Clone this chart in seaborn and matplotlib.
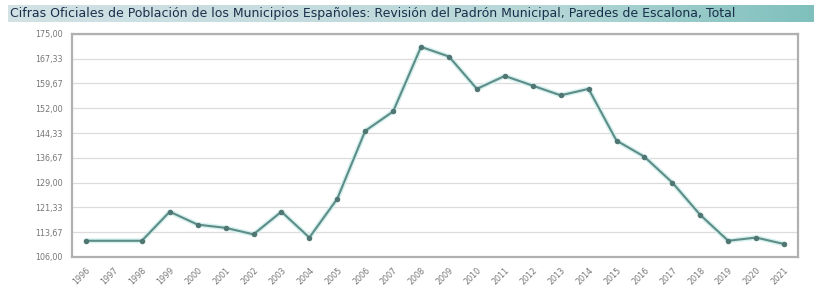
import matplotlib
matplotlib.use("Agg")
import matplotlib.pyplot as plt
import seaborn as sns
import numpy as np
import pandas as pd

title = "Cifras Oficiales de Población de los Municipios Españoles: Revisión del Padrón Municipal, Paredes de Escalona, Total"

years = [1996, 1998, 1999, 2000, 2001, 2002, 2003, 2004, 2005, 2006, 2007, 2008,
         2009, 2010, 2011, 2012, 2013, 2014, 2015, 2016, 2017, 2018, 2019, 2020, 2021]
population = [111, 111, 120, 116, 115, 113, 120, 112, 124, 145, 151, 171,
              168, 158, 162, 159, 156, 158, 142, 137, 129, 119, 111, 112, 110]
tick_years = list(range(1996, 2022))
y_ticks = [106.00, 113.67, 121.33, 129.00, 136.67, 144.33, 152.00, 159.67, 167.33, 175.00]

df = pd.DataFrame({"year": years, "population": population})

sns.set_style("white")
plt.rcParams['font.family'] = ['DejaVu Sans']

fig = plt.figure(figsize=(8.22, 2.95), dpi=100)

# title bar with gradient
bar = fig.add_axes([0.01, 0.925, 0.98, 0.058])
grad = np.linspace(0, 1, 256).reshape(1, -1)
cmap = matplotlib.colors.LinearSegmentedColormap.from_list(
    "bar", ["#d2e2e5", "#c6dcdf", "#b6d7d7", "#7fc0bd"])
bar.imshow(grad, aspect="auto", cmap=cmap, extent=[0, 1, 0, 1])
bar.set_axis_off()
bar.text(0.002, 0.5, title, fontsize=9.0, color="#1a2f4a",
         va="center", ha="left", transform=bar.transAxes)

ax = fig.add_axes([0.0876, 0.129, 0.8832, 0.756])

# soft glow under the line
ax.plot(df["year"], df["population"], color="#d6f1ef", linewidth=3.6, zorder=2)
sns.lineplot(data=df, x="year", y="population", ax=ax, color="#5e8c87",
             linewidth=1.5, marker="o", markersize=3.2,
             markerfacecolor="#4f7672", markeredgecolor="#4f7672", zorder=3)

ax.set_xlim(1995.5, 2021.5)
ax.set_ylim(106, 175)
ax.set_yticks(y_ticks)
ax.set_yticklabels([f"{v:.2f}".replace(".", ",") for v in y_ticks])
ax.set_xticks(tick_years)
ax.set_xticklabels([str(y) for y in tick_years], rotation=45, ha="right",
                   rotation_mode="anchor")
ax.tick_params(axis="both", labelsize=5.8, colors="#888888", length=3,
               width=0.8, direction="out")
ax.tick_params(axis="both", labelcolor="#777777")
ax.set_xlabel("")
ax.set_ylabel("")

ax.yaxis.grid(True, color="#dcdcdc", linewidth=0.9)
ax.xaxis.grid(False)
for s in ax.spines.values():
    s.set_color("#b0b0b0")
    s.set_linewidth(1.6)
    s.set_visible(True)

fig.savefig("out.png", dpi=100)
